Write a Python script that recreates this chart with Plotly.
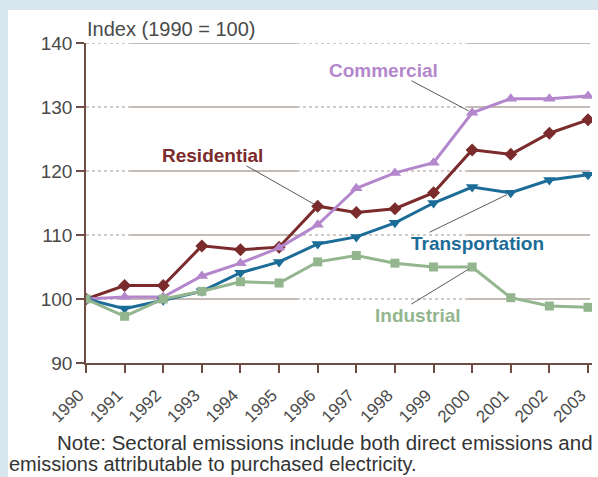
import plotly.graph_objects as go

# Emissions index by end-use sector (1990 = 100)
years = list(range(1990, 2004))
residential = [100, 102.1, 102.1, 108.3, 107.7, 108.1, 114.5, 113.5, 114.1, 116.6, 123.3, 122.6, 125.9, 128.0]
commercial = [100, 100.3, 100.3, 103.6, 105.6, 108.0, 111.6, 117.3, 119.7, 121.3, 129.1, 131.3, 131.3, 131.7]
transportation = [100, 98.5, 99.8, 101.2, 104.1, 105.8, 108.6, 109.7, 111.9, 115.0, 117.5, 116.6, 118.6, 119.4]
industrial = [100, 97.3, 100.0, 101.2, 102.7, 102.5, 105.8, 106.8, 105.6, 105.0, 105.0, 100.2, 98.9, 98.7]

y_ticks = [90, 100, 110, 120, 130, 140]
tick_labels = [str(y) for y in years]
title_text = "Index (1990 = 100)"
note_lines = [
    "Note: Sectoral emissions include both direct emissions and",
    "emissions attributable to purchased electricity.",
]

W, H = 598, 477
L, R, T, B = 86, 6, 43, 114
pw, ph = W - L - R, H - T - B
FONT = "Liberation Sans, Arial, sans-serif"


def px_x(px):
    return (px - L) / pw


def px_y(py):
    return (H - B - py) / ph


series = [
    ("Residential", residential, "#7b2b2b", "diamond", 10),
    ("Commercial", commercial, "#b487cc", "triangle-up", 11),
    ("Transportation", transportation, "#1c6c98", "triangle-down", 11),
    ("Industrial", industrial, "#93b68f", "square", 9),
]

fig = go.Figure()
for name, vals, color, sym, size in series:
    fig.add_trace(go.Scatter(
        x=years, y=vals, name=name, mode="lines+markers",
        line=dict(color=color, width=3),
        marker=dict(symbol=sym, size=size, color=color),
        showlegend=False,
    ))

shapes = [
    # white card behind the chart
    dict(type="rect", xref="paper", yref="paper",
         x0=px_x(8), x1=px_x(600), y0=px_y(480), y1=px_y(10),
         fillcolor="white", line=dict(width=0), layer="below"),
]
# horizontal rules: alternating dotted and solid runs
segments = [(86, 130, "dot"), (130, 297, "solid"), (297, 468, "dot"), (468, 590, "solid")]
for v in y_ticks[1:]:
    for a, b, dash in segments:
        shapes.append(dict(
            type="line", xref="paper", yref="y", x0=px_x(a), x1=px_x(b), y0=v, y1=v,
            line=dict(color="#8a7870" if dash == "solid" else "#a8958c", width=1.2, dash=dash),
            layer="below",
        ))

annotations = [
    dict(text=title_text, xref="paper", yref="paper", x=px_x(85), y=px_y(29),
         xanchor="left", yanchor="middle", showarrow=False,
         font=dict(family=FONT, size=20, color="#4a4a4a")),
    dict(text=note_lines[0], xref="paper", yref="paper", x=px_x(55), y=px_y(442),
         xanchor="left", yanchor="middle", showarrow=False,
         font=dict(family=FONT, size=20.5, color="#333333")),
    dict(text=note_lines[1], xref="paper", yref="paper", x=px_x(7), y=px_y(464),
         xanchor="left", yanchor="middle", showarrow=False,
         font=dict(family=FONT, size=20, color="#333333")),
]

# series labels (text position in pixels) with thin leader lines to a chosen year
labels = [
    ("Commercial", commercial, "#b487cc", (383, 70), 2000, (410, 80)),
    ("Residential", residential, "#7b2b2b", (212, 155), 1996, (245, 165)),
    ("Transportation", transportation, "#1c6c98", (477, 243), 2001, (428, 233)),
    ("Industrial", industrial, "#93b68f", (418, 315), 2000, (410, 305)),
]
for text, vals, color, (tx, ty), yr, (lx, ly) in labels:
    annotations.append(dict(
        text="<b>%s</b>" % text, xref="paper", yref="paper", x=px_x(tx), y=px_y(ty),
        xanchor="center", yanchor="middle", showarrow=False,
        font=dict(family=FONT, size=19, color=color)))
    v = vals[years.index(yr)]
    hx = L + (yr - 1990) * (588 - 86) / 13
    hy = (H - B) - (v - 90) * ph / 50
    annotations.append(dict(
        text="", x=yr, y=v, xref="x", yref="y", showarrow=True, arrowhead=0,
        arrowwidth=1, arrowcolor="#5a5a5a", ax=lx - hx, ay=ly - hy, standoff=4))

x_end = 1990 + pw / ((588 - 86) / 13)
fig.update_layout(
    width=W, height=H,
    margin=dict(l=L, r=R, t=T, b=B, autoexpand=False),
    paper_bgcolor="#d8e6ef",
    plot_bgcolor="#fdf8ea",
    shapes=shapes,
    annotations=annotations,
    xaxis=dict(
        range=[1990, x_end], tickmode="array", tickvals=years, ticktext=tick_labels,
        tickangle=-45, showgrid=False, zeroline=False,
        showline=True, linecolor="#6e4d45", linewidth=1.5,
        ticks="outside", ticklen=8, tickcolor="#6e4d45", tickwidth=1.5,
        ticklabelstandoff=6, ticklabelshift=-7,
        tickfont=dict(family=FONT, size=17, color="#4a4a4a"),
    ),
    yaxis=dict(
        range=[90, 140], tickmode="array", tickvals=y_ticks,
        showgrid=False, zeroline=False,
        showline=True, linecolor="#6e4d45", linewidth=1.5,
        ticks="outside", ticklen=8, tickcolor="#6e4d45", tickwidth=1.5,
        tickfont=dict(family=FONT, size=19, color="#4a4a4a"),
    ),
)

fig.write_html("out.html")
